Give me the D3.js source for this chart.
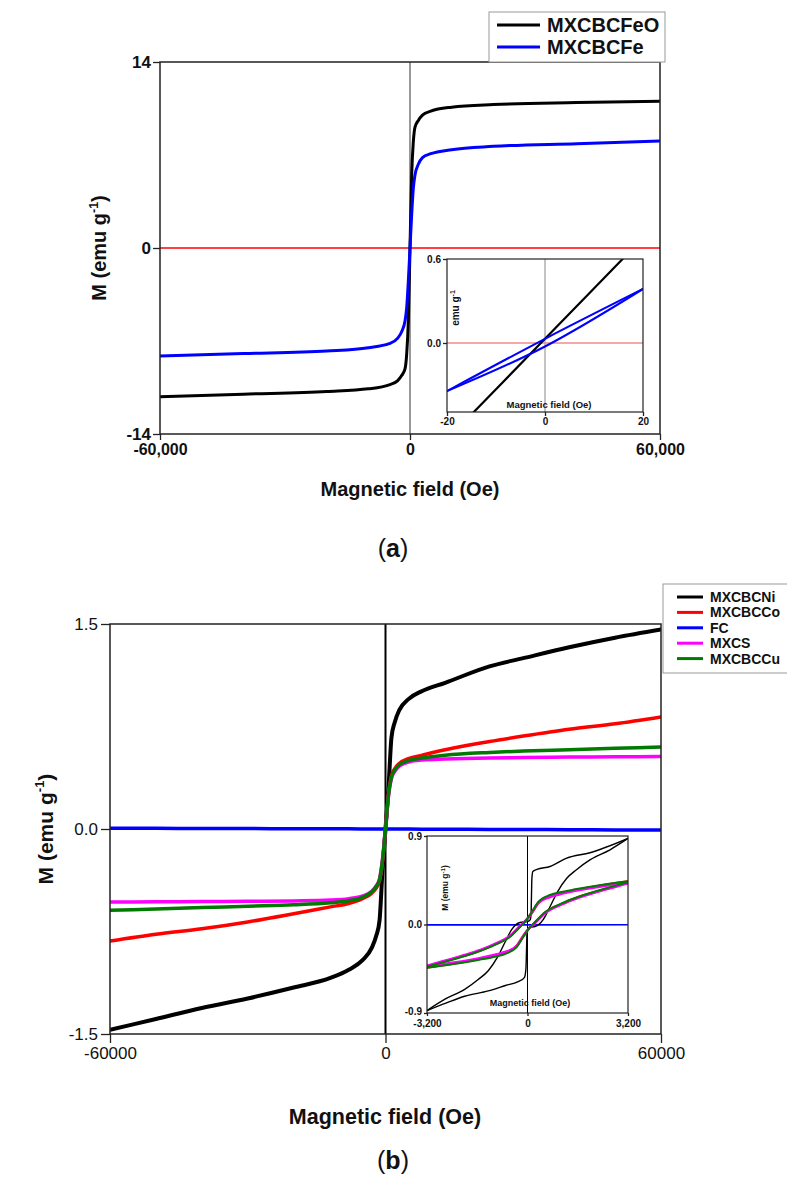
<!DOCTYPE html>
<html><head><meta charset="utf-8">
<script src="https://cdn.jsdelivr.net/npm/d3@7"></script>
<style>
body{margin:0;background:#fff}
svg{display:block}
text{font-family:"Liberation Sans",Arial,sans-serif}
</style>
</head><body><script>
// ---------- Panel (a) data ----------
const fieldA = [-60000,-40000,-20000,-10000,-5000,-3000,-2000,-1200,-800,-400,0,400,800,1200,2000,3000,5000,10000,20000,40000,60000];
const mFeO   = [-11.2,-11.0,-10.8,-10.6,-10.3,-10.0,-9.6,-9.1,-8.0,-5.5,0,5.5,8.0,9.1,9.6,10.0,10.3,10.6,10.8,10.95,11.05];
const mFe    = [-8.13,-7.95,-7.75,-7.5,-7.2,-6.8,-6.3,-5.5,-4.5,-2.5,0,2.5,4.5,5.5,6.3,6.8,7.1,7.4,7.65,7.85,8.05];
const ticksAX = [-60000,0,60000];
const ticksAY = [-14,0,14];
const seriesA = ["MXCBCFeO","MXCBCFe"];
// inset (a)
const insetAField = [-20,0,20];
const insetAFeO   = [-0.69,0.03,0.75];
const insetAFeUp  = [-0.343,0.03,0.386];
const insetAFeDn  = [-0.343,-0.025,0.386];
const insetATicksX = [-20,0,20];
const insetATicksY = [0,0.6];

// ---------- Panel (b) data ----------
const fieldB = [-60000,-50000,-40000,-30000,-20000,-12000,-8000,-5000,-3000,-2000,-1300,-650,0,650,1300,2000,3000,5000,8000,13000,22650,30000,40000,50000,60000];
const mNi   = [-1.47,-1.39,-1.31,-1.24,-1.16,-1.09,-1.03,-0.96,-0.87,-0.78,-0.67,-0.30,0,0.30,0.67,0.78,0.87,0.95,1.01,1.07,1.19,1.25,1.33,1.40,1.46];
const mCo   = [-0.82,-0.77,-0.73,-0.68,-0.62,-0.57,-0.545,-0.51,-0.47,-0.43,-0.38,-0.24,0,0.26,0.39,0.44,0.48,0.515,0.54,0.58,0.64,0.68,0.73,0.77,0.82];
const mFC   = [0.006,0.005,0.004,0.003,0.002,0.001,0.001,0.0005,0.0003,0.0002,0.0001,0,0,0,-0.0001,-0.0002,-0.0003,-0.0005,-0.001,-0.002,-0.003,-0.004,-0.005,-0.007,-0.008];
const mMXCS = [-0.535,-0.533,-0.531,-0.529,-0.526,-0.52,-0.51,-0.49,-0.455,-0.415,-0.365,-0.22,0,0.24,0.37,0.42,0.46,0.49,0.505,0.512,0.52,0.523,0.526,0.528,0.53];
const mCu   = [-0.595,-0.585,-0.575,-0.565,-0.555,-0.54,-0.525,-0.50,-0.46,-0.42,-0.37,-0.23,0,0.25,0.38,0.43,0.47,0.50,0.52,0.54,0.56,0.57,0.58,0.59,0.60];
const ticksBX = [-60000,0,60000];
const ticksBY = [-1.5,0,1.5];
const seriesB = ["MXCBCNi","MXCBCCo","FC","MXCS","MXCBCCu"];
const colorsB = ["#000000","#ff0000","#0000ff","#ff00ff","#007a00"];
// inset (b): black loop, two branches
const insetNiH_A = [-3200,-2600,-2000,-1250,-700,-300,-100,-50,-30,-15,50,240,500,700,950,1250,1570,2000,2627,3200];
const insetNiM_A = [-0.875,-0.80,-0.73,-0.675,-0.62,-0.58,-0.54,-0.45,-0.25,-0.08,-0.03,-0.02,0.05,0.17,0.33,0.47,0.56,0.66,0.76,0.875];
const insetNiH_B = [-3200,-2627,-2000,-1570,-1250,-950,-700,-500,-240,0,90,115,127,140,170,300,716,1248,1990,3200];
const insetNiM_B = [-0.875,-0.76,-0.66,-0.56,-0.47,-0.33,-0.17,-0.05,0.02,0.03,0.05,0.12,0.30,0.47,0.54,0.56,0.59,0.675,0.73,0.875];
// inset (b): colored loops
const insetLoopH_U = [-3200,-2700,-2150,-1600,-1089,-557,-239,-27,133,344,716,1000,1566,2400,3200];
const insetCoU  = [-0.43,-0.38,-0.33,-0.275,-0.21,-0.12,-0.02,0.046,0.114,0.216,0.284,0.31,0.352,0.40,0.437];
const insetLoopH_L = [-3200,-2400,-1566,-1000,-716,-344,-133,27,239,557,1089,1600,2150,2700,3200];
const insetCoL  = [-0.437,-0.40,-0.352,-0.31,-0.284,-0.216,-0.114,-0.046,0.02,0.12,0.21,0.275,0.33,0.38,0.43];
const insetMxU  = [-0.42,-0.375,-0.325,-0.27,-0.205,-0.115,-0.015,0.05,0.12,0.22,0.28,0.305,0.345,0.39,0.42];
const insetMxL  = [-0.42,-0.39,-0.345,-0.305,-0.28,-0.22,-0.12,-0.05,0.015,0.115,0.205,0.27,0.325,0.375,0.42];
const insetCuU  = [-0.43,-0.385,-0.335,-0.28,-0.215,-0.125,-0.025,0.05,0.125,0.23,0.30,0.325,0.36,0.405,0.44];
const insetCuL  = [-0.44,-0.405,-0.36,-0.325,-0.30,-0.23,-0.125,-0.05,0.025,0.125,0.215,0.28,0.335,0.385,0.43];
const insetFCH  = [-3200,0,3200];
const insetFCM  = [-0.004,-0.004,-0.003];
const insetBTicksX = [-3200,0,3200];
const insetBTicksY = [-0.9,0,0.9];

// ---------- drawing ----------
const svg = d3.select("body").append("svg").attr("width",787).attr("height",1177);
const defs = svg.append("defs");
let clipId = 0;
function clip(x0,y0,w,h){
  const id = "c"+(clipId++);
  defs.append("clipPath").attr("id",id).append("rect").attr("x",x0).attr("y",y0).attr("width",w).attr("height",h);
  return "url(#"+id+")";
}
function path(g,x,y,H,M,color,w){
  const gen = d3.line().x((d,i)=>x(H[i])).y((d,i)=>y(M[i])).curve(d3.curveMonotoneX);
  g.append("path").attr("d",gen(H)).attr("fill","none").attr("stroke",color)
   .attr("stroke-width",w).attr("stroke-linejoin","round").attr("stroke-linecap","round");
}
const hy = f => (d => f(d).replace("\u2212","-"));
function styleAxis(g,fs,fw,color){
  g.select(".domain").remove();
  g.selectAll(".tick line").attr("stroke",color||"#222").attr("stroke-width",1.3);
  g.selectAll(".tick text").attr("font-family","Liberation Sans, Arial, sans-serif")
    .attr("font-size",fs).attr("font-weight",fw).attr("fill","#111");
}
function yLabel(g,x,y,fs,txt){
  const t = g.append("text").attr("transform",`translate(${x},${y}) rotate(-90)`)
    .attr("text-anchor","middle").attr("font-size",fs).attr("font-weight","bold").attr("fill","#111");
  t.append("tspan").text(txt);
  t.append("tspan").attr("font-size",fs*0.62).attr("dy",-fs*0.42).text("-1");
  t.append("tspan").attr("dy",fs*0.42).text(")");
}

// ===== Panel (a) =====
const xA = d3.scaleLinear().domain([-60000,60000]).range([160,660]);
const yA = d3.scaleLinear().domain([-14,14]).range([434,62]);
const gA = svg.append("g");
const pA = gA.append("g").attr("clip-path",clip(160,62,500,372));
pA.append("line").attr("x1",xA(0)).attr("x2",xA(0)).attr("y1",62).attr("y2",434).attr("stroke","#777").attr("stroke-width",1.5);
pA.append("line").attr("x1",160).attr("x2",660).attr("y1",yA(0)).attr("y2",yA(0)).attr("stroke","#ff0000").attr("stroke-width",1.6);
path(pA,xA,yA,fieldA,mFeO,"#000",3);
path(pA,xA,yA,fieldA,mFe,"#0000ff",3);
gA.append("rect").attr("x",160).attr("y",62).attr("width",500).attr("height",372).attr("fill","none").attr("stroke","#222").attr("stroke-width",1.5);
const axAy = gA.append("g").attr("transform","translate(160,0)")
  .call(d3.axisLeft(yA).tickValues(ticksAY).tickSize(7).tickPadding(2).tickFormat(hy(d3.format("d"))));
styleAxis(axAy,17,"bold");
const axAx = gA.append("g").attr("transform","translate(0,434)")
  .call(d3.axisBottom(xA).tickValues(ticksAX).tickSize(6).tickPadding(4).tickFormat(hy(d3.format(","))));
styleAxis(axAx,16,"bold");
gA.append("text").attr("x",410).attr("y",496).attr("text-anchor","middle").attr("font-size",20).attr("font-weight","bold").attr("fill","#111").text("Magnetic field (Oe)");
yLabel(gA,106,248,20,"M (emu g");
// legend (a)
const legA = gA.append("g");
legA.append("rect").attr("x",489).attr("y",12).attr("width",176).attr("height",50).attr("fill","#fff").attr("stroke","#999");
seriesA.forEach((s,i)=>{
  const yy = 25 + i*22;
  legA.append("line").attr("x1",497).attr("x2",540).attr("y1",yy).attr("y2",yy).attr("stroke",i?"#0000ff":"#000").attr("stroke-width",3);
  legA.append("text").attr("x",547).attr("y",yy+7).attr("font-size",20).attr("font-weight","bold").attr("fill","#111").text(s);
});
// inset (a)
const xIA = d3.scaleLinear().domain([-20,20]).range([447,643]);
const yIA = d3.scaleLinear().domain([0,0.6]).range([343,259]);
const gIA = svg.append("g");
gIA.append("rect").attr("x",447).attr("y",259).attr("width",196).attr("height",153).attr("fill","#fff");
const pIA = gIA.append("g").attr("clip-path",clip(447,259,196,153));
pIA.append("line").attr("x1",xIA(0)).attr("x2",xIA(0)).attr("y1",259).attr("y2",412).attr("stroke","#888").attr("stroke-width",1);
pIA.append("line").attr("x1",447).attr("x2",643).attr("y1",yIA(0)).attr("y2",yIA(0)).attr("stroke","#f28b8b").attr("stroke-width",1.6);
path(pIA,xIA,yIA,insetAField,insetAFeO,"#000",2.2);
path(pIA,xIA,yIA,insetAField,insetAFeUp,"#0000ff",2);
path(pIA,xIA,yIA,insetAField,insetAFeDn,"#0000ff",2);
gIA.append("rect").attr("x",447).attr("y",259).attr("width",196).attr("height",153).attr("fill","none").attr("stroke","#222").attr("stroke-width",1.2);
const axIAy = gIA.append("g").attr("transform","translate(447,0)")
  .call(d3.axisLeft(yIA).tickValues(insetATicksY).tickSize(4).tickPadding(2).tickFormat(hy(d3.format(".1f"))));
styleAxis(axIAy,10,"bold");
const axIAx = gIA.append("g").attr("transform","translate(0,412)")
  .call(d3.axisBottom(xIA).tickValues(insetATicksX).tickSize(4).tickPadding(2).tickFormat(hy(d3.format("d"))));
styleAxis(axIAx,10,"bold");
gIA.append("text").attr("x",549).attr("y",408).attr("text-anchor","middle").attr("font-size",9.5).attr("font-weight","bold").attr("fill","#111").text("Magnetic field (Oe)");
(function(){
  const t = gIA.append("text").attr("transform","translate(459,308) rotate(-90)").attr("text-anchor","middle").attr("font-size",10).attr("font-weight","bold").attr("fill","#111");
  t.append("tspan").text("emu g");
  t.append("tspan").attr("font-size",7).attr("dy",-4).text("-1");
})();
// caption (a)
(function(){
  const t = svg.append("text").attr("x",393).attr("y",557).attr("text-anchor","middle").attr("font-family","Liberation Serif, Times New Roman, serif").attr("font-size",25).attr("fill","#111");
  t.append("tspan").text("(");
  t.append("tspan").attr("font-weight","bold").text("a");
  t.append("tspan").text(")");
})();

// ===== Panel (b) =====
const xB = d3.scaleLinear().domain([-60000,60000]).range([110,661]);
const yB = d3.scaleLinear().domain([-1.5,1.5]).range([1034,624]);
const gB = svg.append("g");
const pB = gB.append("g").attr("clip-path",clip(110,624,551,410));
pB.append("line").attr("x1",xB(0)).attr("x2",xB(0)).attr("y1",624).attr("y2",1034).attr("stroke","#000").attr("stroke-width",2);
const seriesBValues = [mNi,mCo,mFC,mMXCS,mCu];
seriesBValues.forEach((v,i)=> path(pB,xB,yB,fieldB,v,colorsB[i], i===0?4:3.5));
gB.append("rect").attr("x",110).attr("y",624).attr("width",551).attr("height",410).attr("fill","none").attr("stroke","#222").attr("stroke-width",1.5);
const axBy = gB.append("g").attr("transform","translate(110,0)")
  .call(d3.axisLeft(yB).tickValues(ticksBY).tickSize(9).tickPadding(3).tickFormat(hy(d3.format(".1f"))));
styleAxis(axBy,17,"normal");
const axBx = gB.append("g").attr("transform","translate(0,1034)")
  .call(d3.axisBottom(xB).tickValues(ticksBX).tickSize(9).tickPadding(4).tickFormat(hy(d3.format("d"))));
styleAxis(axBx,17,"normal");
gB.append("text").attr("x",385).attr("y",1124).attr("text-anchor","middle").attr("font-size",21.5).attr("font-weight","bold").attr("fill","#111").text("Magnetic field (Oe)");
yLabel(gB,53,829,21,"M (emu g");
// legend (b)
const legB = gB.append("g");
legB.append("rect").attr("x",663).attr("y",584).attr("width",130).attr("height",89).attr("fill","#fff").attr("stroke","#999");
seriesB.forEach((s,i)=>{
  const yy = 597 + i*15.4;
  legB.append("line").attr("x1",677).attr("x2",703).attr("y1",yy).attr("y2",yy).attr("stroke",colorsB[i]).attr("stroke-width",3);
  legB.append("text").attr("x",710).attr("y",yy+5).attr("font-size",14).attr("font-weight","bold").attr("fill","#111").text(s);
});
// inset (b)
const xIB = d3.scaleLinear().domain([-3200,3200]).range([427,628]);
const yIB = d3.scaleLinear().domain([-0.9,0.9]).range([1013,836]);
const gIB = svg.append("g");
gIB.append("rect").attr("x",427).attr("y",836).attr("width",201).attr("height",177).attr("fill","#fff");
const pIB = gIB.append("g").attr("clip-path",clip(427,836,201,177));
pIB.append("line").attr("x1",xIB(0)).attr("x2",xIB(0)).attr("y1",836).attr("y2",1013).attr("stroke","#000").attr("stroke-width",1);
pIB.append("line").attr("x1",427).attr("x2",628).attr("y1",yIB(0)).attr("y2",yIB(0)).attr("stroke","#ff0000").attr("stroke-width",1.2);
path(pIB,xIB,yIB,insetFCH,insetFCM,"#0000ff",1.6);
path(pIB,xIB,yIB,insetNiH_B,insetNiM_B,"#000",1.4);
path(pIB,xIB,yIB,insetNiH_A,insetNiM_A,"#000",1.4);
path(pIB,xIB,yIB,insetLoopH_U,insetCoU,"#ff0000",2.4);
path(pIB,xIB,yIB,insetLoopH_L,insetCoL,"#ff0000",2.4);
path(pIB,xIB,yIB,insetLoopH_U,insetMxU,"#ff00ff",2.6);
path(pIB,xIB,yIB,insetLoopH_L,insetMxL,"#ff00ff",2.6);
path(pIB,xIB,yIB,insetLoopH_U,insetCuU,"#007a00",2);
path(pIB,xIB,yIB,insetLoopH_L,insetCuL,"#007a00",2);
gIB.append("rect").attr("x",427).attr("y",836).attr("width",201).attr("height",177).attr("fill","none").attr("stroke","#222").attr("stroke-width",1.2);
const axIBy = gIB.append("g").attr("transform","translate(427,0)")
  .call(d3.axisLeft(yIB).tickValues(insetBTicksY).tickSize(3).tickPadding(2).tickFormat(hy(d3.format(".1f"))));
styleAxis(axIBy,10,"bold");
axIBy.selectAll(".tick text").filter(d=>d<0).attr("dy","0.1em");
const axIBx = gIB.append("g").attr("transform","translate(0,1013)")
  .call(d3.axisBottom(xIB).tickValues(insetBTicksX).tickSize(3).tickPadding(4).tickFormat(hy(d3.format(","))));
styleAxis(axIBx,10,"bold");
gIB.append("text").attr("x",530).attr("y",1006).attr("text-anchor","middle").attr("font-size",9).attr("font-weight","bold").attr("fill","#111").text("Magnetic field (Oe)");
(function(){
  const t = gIB.append("text").attr("transform","translate(448,888) rotate(-90)").attr("text-anchor","middle").attr("font-size",8.5).attr("font-weight","bold").attr("fill","#111");
  t.append("tspan").text("M (emu g");
  t.append("tspan").attr("font-size",6).attr("dy",-3.5).text("-1");
  t.append("tspan").attr("dy",3.5).text(")");
})();
// caption (b)
(function(){
  const t = svg.append("text").attr("x",393).attr("y",1169).attr("text-anchor","middle").attr("font-family","Liberation Serif, Times New Roman, serif").attr("font-size",25).attr("fill","#111");
  t.append("tspan").text("(");
  t.append("tspan").attr("font-weight","bold").text("b");
  t.append("tspan").text(")");
})();
</script></body></html>
